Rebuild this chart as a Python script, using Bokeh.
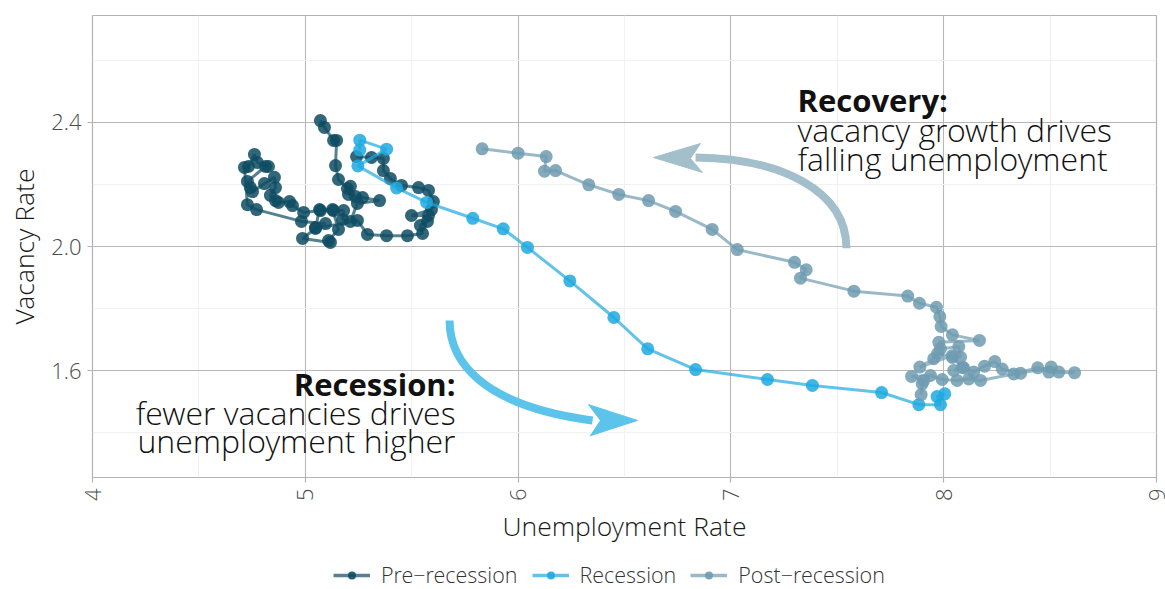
import math
from bokeh.plotting import figure
from bokeh.layouts import column
from bokeh.models import FixedTicker, Legend, LegendItem, Label, ColumnDataSource, Range1d
from bokeh.embed import file_html
from bokeh.resources import INLINE

# ---------------- data ----------------
pre_unemp = [5.071, 5.090, 5.133, 5.147, 5.142, 5.156, 5.198, 5.212, 5.203, 5.236,
             5.269, 5.349, 5.245, 5.212, 5.175, 5.180, 5.133, 5.071, 4.992, 4.940,
             4.926, 4.874, 4.860, 4.836, 4.860, 4.855, 4.808, 4.752, 4.742, 4.728,
             4.813, 4.827, 4.775, 4.761, 4.733, 4.714, 4.728, 4.771, 4.982, 5.095,
             5.048, 5.067, 5.128, 5.156, 5.109, 5.118, 4.987, 5.048, 5.245, 5.292,
             5.382, 5.480, 5.551, 5.541, 5.574, 5.579, 5.499, 5.593, 5.602, 5.579,
             5.532, 5.452, 5.400, 5.367, 5.367, 5.311, 5.241]
pre_vac = [2.406, 2.384, 2.342, 2.342, 2.261, 2.216, 2.187, 2.194, 2.168, 2.161,
           2.158, 2.148, 2.139, 2.081, 2.087, 2.116, 2.116, 2.116, 2.110, 2.132,
           2.145, 2.142, 2.148, 2.165, 2.190, 2.223, 2.203, 2.177, 2.190, 2.210,
           2.258, 2.258, 2.271, 2.297, 2.258, 2.255, 2.135, 2.119, 2.081, 2.074,
           2.061, 2.119, 2.119, 2.055, 2.019, 2.013, 2.026, 2.058, 2.084, 2.039,
           2.035, 2.035, 2.042, 2.068, 2.081, 2.100, 2.100, 2.119, 2.145, 2.181,
           2.190, 2.197, 2.219, 2.245, 2.284, 2.287, 2.290]

rec_unemp = [5.256, 5.256, 5.382, 5.247, 5.429, 5.570, 5.787, 5.930, 6.044, 6.243,
             6.450, 6.609, 6.834, 7.172, 7.383, 7.708, 7.883, 7.985, 7.969, 8.005]
rec_vac = [2.311, 2.343, 2.314, 2.260, 2.189, 2.142, 2.091, 2.057, 1.997, 1.889,
           1.771, 1.670, 1.603, 1.571, 1.552, 1.529, 1.490, 1.490, 1.516, 1.525]

post_unemp = [7.894, 7.899, 7.906, 7.849, 7.938, 7.993, 8.063, 8.118, 8.173, 8.329,
              8.442, 8.494, 8.615, 8.541, 8.505, 8.361, 8.275, 8.240, 8.192, 8.141,
              8.094, 8.047, 8.088, 8.041, 7.971, 7.953, 7.888, 8.040, 8.079, 8.071,
              7.985, 7.977, 8.168, 8.041, 7.988, 7.982, 7.966, 7.886, 7.831, 7.578,
              7.327, 7.354, 7.299, 7.030, 6.912, 6.740, 6.613, 6.473, 6.332, 6.176,
              6.124, 6.132, 6.000, 5.831]
post_vac = [1.522, 1.557, 1.568, 1.581, 1.584, 1.571, 1.568, 1.573, 1.568, 1.589,
            1.609, 1.595, 1.593, 1.595, 1.611, 1.591, 1.605, 1.629, 1.614, 1.595,
            1.609, 1.600, 1.610, 1.642, 1.655, 1.638, 1.611, 1.648, 1.643, 1.677,
            1.670, 1.691, 1.697, 1.715, 1.742, 1.774, 1.804, 1.817, 1.840, 1.856,
            1.898, 1.925, 1.949, 1.990, 2.055, 2.113, 2.148, 2.168, 2.199, 2.245,
            2.243, 2.290, 2.301, 2.315]

series_names = ["Pre\u2212recession", "Recession", "Post\u2212recession"]
series_colors = ["#0E4C63", "#1FA9E1", "#6F9BB0"]

x_ticks = [4, 5, 6, 7, 8, 9]
x_minor = [4.5, 5.5, 6.5, 7.5, 8.5]
y_ticks = [1.6, 2.0, 2.4]
y_minor = [1.4, 1.8, 2.2, 2.6]
y_tick_labels = {1.6: "1.6", 2.0: "2.0", 2.4: "2.4"}

FONT = "Open Sans"
LIGHT = "Open Sans Light"
W = 1165
MAIN_H = 549
LEG_H = 40

# ---------------- main figure ----------------
p = figure(width=W, height=MAIN_H, x_range=(4, 9), y_range=(1.255, 2.745),
           output_backend="svg", toolbar_location=None,
           min_border_left=92, min_border_top=15, min_border_right=9,
           min_border_bottom=MAIN_H - 477)
p.background_fill_color = "white"
p.border_fill_color = "white"
p.outline_line_color = "#b3b3b3"
p.outline_line_width = 1.2

p.xaxis.ticker = FixedTicker(ticks=x_ticks, minor_ticks=x_minor)
p.yaxis.ticker = FixedTicker(ticks=y_ticks, minor_ticks=y_minor)
p.yaxis.major_label_overrides = y_tick_labels
p.xgrid.grid_line_color = "#b8b8b8"
p.ygrid.grid_line_color = "#b8b8b8"
p.xgrid.grid_line_width = 1.1
p.ygrid.grid_line_width = 1.1
p.xgrid.minor_grid_line_color = "#f1f1f1"
p.ygrid.minor_grid_line_color = "#f1f1f1"
p.xgrid.minor_grid_line_width = 1.1
p.ygrid.minor_grid_line_width = 1.1

for ax in (p.xaxis, p.yaxis):
    ax.axis_line_color = None
    ax.major_tick_line_color = "#b3b3b3"
    ax.major_tick_line_width = 1.2
    ax.major_tick_out = 5
    ax.major_tick_in = 0
    ax.minor_tick_out = 0
    ax.minor_tick_in = 0
    ax.major_label_text_font = LIGHT
    ax.major_label_text_font_size = "22px"
    ax.major_label_text_color = "#4d4d4d"
    ax.axis_label_text_font = LIGHT
    ax.axis_label_text_font_size = "26.5px"
    ax.axis_label_text_font_style = "normal"
    ax.axis_label_text_color = "#1a1a1a"
p.xaxis.major_label_orientation = math.pi / 2
p.xaxis.axis_label = "Unemployment Rate"
p.yaxis.axis_label = "Vacancy Rate"
p.xaxis.major_label_standoff = 6
p.yaxis.major_label_standoff = 6
p.xaxis.axis_label_standoff = 4
p.yaxis.axis_label_standoff = 6

# ---------------- annotation arrows ----------------
p.bezier(x0=[5.678], y0=[1.761], cx0=[5.678], cy0=[1.632], cx1=[5.823], cy1=[1.487],
         x1=[6.350], y1=[1.439], line_color="#5CC3EA", line_width=8)
p.patch(x=[6.561, 6.331, 6.387, 6.340], y=[1.439, 1.490, 1.439, 1.390],
        fill_color="#5CC3EA", line_color="#5CC3EA", line_width=1)
p.bezier(x0=[7.543], y0=[1.994], cx0=[7.543], cy0=[2.181], cx1=[7.233], cy1=[2.284],
         x1=[6.834], y1=[2.287], line_color="#A3BFCC", line_width=8)
p.patch(x=[6.636, 6.857, 6.810, 6.866], y=[2.287, 2.332, 2.284, 2.239],
        fill_color="#A3BFCC", line_color="#A3BFCC", line_width=1)

# ---------------- series ----------------
sources = []
for name, col, xs, ys in zip(series_names, series_colors,
                             [pre_unemp, rec_unemp, post_unemp],
                             [pre_vac, rec_vac, post_vac]):
    src = ColumnDataSource(dict(x=xs, y=ys))
    sources.append(src)
    p.line("x", "y", source=src, line_color=col, line_width=3, line_alpha=0.7)
    p.scatter("x", "y", source=src, size=13, fill_color=col, fill_alpha=0.85,
              line_color=None)

# ---------------- annotation texts ----------------
def add_text(x, y, txt, align, bold):
    p.add_layout(Label(x=x, y=y, text=txt, text_align=align, text_baseline="alphabetic",
                       text_font=FONT if bold else LIGHT,
                       text_font_style="bold" if bold else "normal",
                       text_font_size="31px" if bold else "32px",
                       text_color="#111111"))

add_text(5.706, 1.558, "Recession:", "right", True)
add_text(5.706, 1.466, "fewer vacancies drives", "right", False)
add_text(5.706, 1.375, "unemployment higher", "right", False)
add_text(7.313, 2.471, "Recovery:", "left", True)
add_text(7.313, 2.378, "vacancy growth drives", "left", False)
add_text(7.313, 2.285, "falling unemployment", "left", False)

# ---------------- legend strip (same series, drawn outside its view) ----------------
lg = figure(width=W, height=LEG_H, output_backend="svg", toolbar_location=None,
            x_range=Range1d(20, 21), y_range=Range1d(20, 21),
            x_axis_type=None, y_axis_type=None, min_border=0)
lg.grid.visible = False
lg.outline_line_color = None
lg.background_fill_color = "white"
lg.border_fill_color = "white"
items = []
for name, col, src in zip(series_names, series_colors, sources):
    r1 = lg.line("x", "y", source=src, line_color=col, line_width=3.5, line_alpha=0.7)
    r2 = lg.scatter("x", "y", source=src, size=10, fill_color=col, fill_alpha=0.9,
                    line_color=None)
    items.append(LegendItem(label=name, renderers=[r1, r2]))

legend = Legend(items=items, orientation="horizontal", location=(241, 0))
legend.label_text_font = LIGHT
legend.label_text_font_size = "21.5px"
legend.label_text_color = "#333333"
legend.border_line_color = None
legend.background_fill_alpha = 0
legend.glyph_width = 37
legend.label_standoff = 11
legend.spacing = 14
legend.margin = 0
legend.padding = 0
lg.add_layout(legend, "center")

layout = column(p, lg, spacing=0)
open("out.html", "w").write(file_html(layout, INLINE))
